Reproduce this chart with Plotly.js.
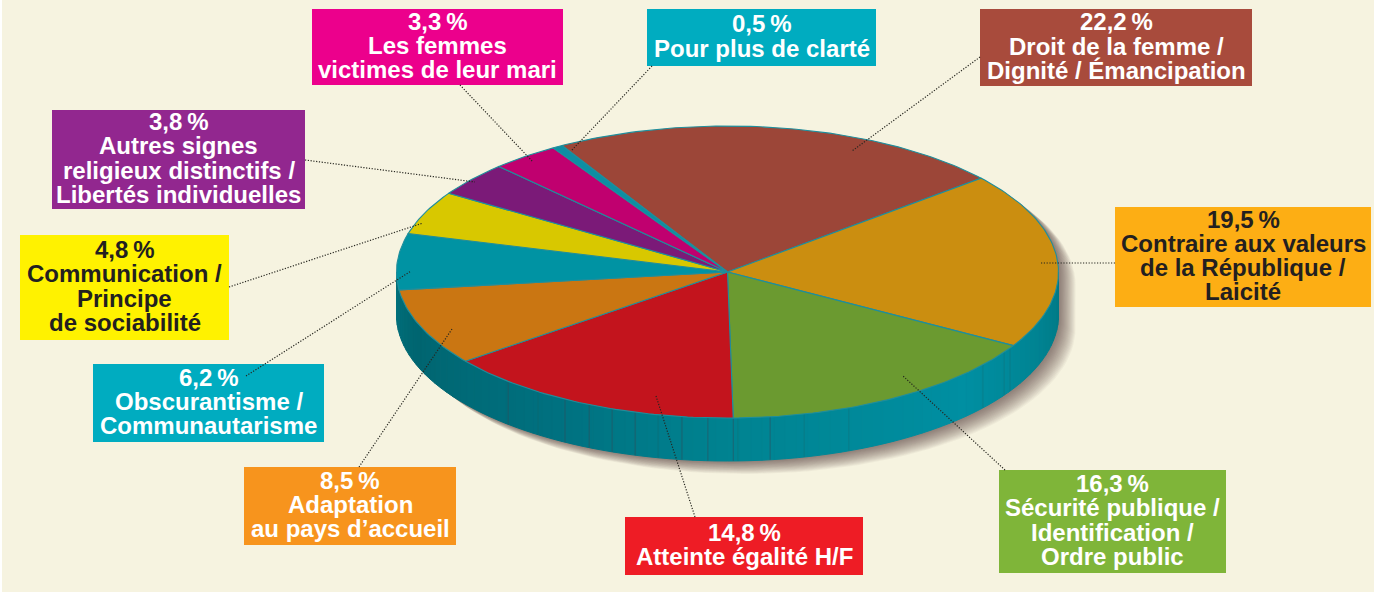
<!DOCTYPE html>
<html>
<head>
<meta charset="utf-8">
<script src="https://cdn.plot.ly/plotly-3.0.1.min.js"></script>
<style>html,body{margin:0;padding:0;background:#fff}#chart{width:1374px;height:592px}</style>
</head>
<body>
<div id="chart"></div>
<script>
// ---- data ----
const categories = [
  "Droit de la femme / Dignité / Émancipation",
  "Contraire aux valeurs de la République / Laicité",
  "Sécurité publique / Identification / Ordre public",
  "Atteinte égalité H/F",
  "Adaptation au pays d’accueil",
  "Obscurantisme / Communautarisme",
  "Communication / Principe de sociabilité",
  "Autres signes religieux distinctifs / Libertés individuelles",
  "Les femmes victimes de leur mari",
  "Pour plus de clarté"
];
const values = [22.2, 19.5, 16.3, 14.8, 8.5, 6.2, 4.8, 3.8, 3.3, 0.5];
const sliceColors = ["#9c4638", "#cb8e10", "#6b9a30", "#c3141d", "#ca7612", "#0093a3", "#d8c800", "#7b1a78", "#c0006f", "#0d8ea3"];
const labelLines = [
  ["22,2\u2009%", "Droit de la femme /", "Dignité / Émancipation"],
  ["19,5\u2009%", "Contraire aux valeurs", "de la République /", "Laicité"],
  ["16,3\u2009%", "Sécurité publique /", "Identification /", "Ordre public"],
  ["14,8\u2009%", "Atteinte égalité H/F"],
  ["8,5\u2009%", "Adaptation", "au pays d’accueil"],
  ["6,2\u2009%", "Obscurantisme /", "Communautarisme"],
  ["4,8\u2009%", "Communication /", "Principe", "de sociabilité"],
  ["3,8\u2009%", "Autres signes", "religieux distinctifs /", "Libertés individuelles"],
  ["3,3\u2009%", "Les femmes", "victimes de leur mari"],
  ["0,5\u2009%", "Pour plus de clarté"]
];
const boxColors = ["#a84b3c", "#fdae14", "#7fb539", "#ee1c25", "#f7941d", "#00acc0", "#fff200", "#92278f", "#ec008c", "#00acc0"];
const textColors = ["#fff", "#231f20", "#fff", "#fff", "#fff", "#fff", "#231f20", "#fff", "#fff", "#fff"];

// ---- layout of the drawing (pixels of the page) ----
const boxes = [
  [980, 1252, 9, 86], [1115, 1371, 207, 307], [999, 1226, 470, 573], [625, 863, 517, 575],
  [244, 456, 467, 545], [93, 324, 364, 442], [20, 229, 235, 340], [52, 305, 110, 209],
  [312, 563, 9, 85], [647, 876, 9, 66]
];
const leaders = [
  [[980, 57], [852, 151]], [[1115, 263], [1040, 263]], [[1005, 470], [903, 376]], [[695, 517], [656, 396]],
  [[359, 467], [452, 329]], [[246, 376], [411, 271]], [[229, 287], [423, 223]], [[305, 160], [475, 182]],
  [[460, 85], [533, 162]], [[652, 66], [571, 151]]
];
const lineStep = 24.2;
const cx = 727.5, cy = 272, rx = 331, ry = 146, depth = 43, startAngle = -30;
const wallStops = [[90, [0,120,132]], [135, [0,143,162]], [180, [0,131,145]], [212, [0,112,127]], [250, [0,101,112]], [270, [0,112,124]]];
const seamAngles = [221.5, 209.4, 204.7, 200.4, 196.2, 187.9, 183.4, 179, 172.6];
const faintSeams = [214.9, 192.1, 178.2, 166.6, 158.5, 129.5, 123.3, 121.4];

const rad = d => d * Math.PI / 180;
const px = d => cx + rx * Math.sin(rad(d));
const py = d => cy - ry * Math.cos(rad(d));
const arc = (a, b, n) => { const o = []; for (let i = 0; i <= n; i++) o.push(a + (b - a) * i / n); return o; };
const poly = (xs, ys, fill, line, w) => ({
  type: "scatter", mode: "lines", x: xs, y: ys, fill: "toself", fillcolor: fill,
  line: {color: line || fill, width: w === undefined ? 1 : w}, hoverinfo: "skip", showlegend: false
});
const wallColor = d => {
  for (let i = 1; i < wallStops.length; i++) {
    if (d <= wallStops[i][0]) {
      const [a, ca] = wallStops[i - 1], [b, cb] = wallStops[i];
      const t = (d - a) / (b - a);
      return "rgb(" + ca.map((v, k) => Math.round(v + (cb[k] - v) * t)).join(",") + ")";
    }
  }
  return "rgb(0,112,124)";
};

const traces = [];
// soft shadow under the disc
const hull = arc(-90, 270, 160);
for (let k = 18; k >= 1; k--) {
  const xs = [], ys = [];
  hull.forEach(d => {
    const low = Math.cos(rad(d)) < 0 ? depth : 0;
    xs.push(px(d) + k * 0.95);
    ys.push(py(d) + low + k * 0.72);
  });
  traces.push(poly(xs, ys, "rgba(60,52,36,0.042)", "rgba(0,0,0,0)", 0));
}
// side wall
const wallAngles = arc(90, 270, 90);
for (let i = 0; i < wallAngles.length - 1; i++) {
  const a = wallAngles[i], b = wallAngles[i + 1];
  const c = wallColor((a + b) / 2);
  traces.push(poly([px(a), px(b), px(b), px(a), px(a)],
                   [py(a), py(b), py(b) + depth, py(a) + depth, py(a)], c, c, 1));
}
const seam = (list, color) => {
  const xs = [], ys = [];
  list.forEach(d => { xs.push(px(d), px(d), null); ys.push(py(d), py(d) + depth, null); });
  traces.push({type: "scatter", mode: "lines", x: xs, y: ys, line: {color: color, width: 1}, hoverinfo: "skip", showlegend: false});
};
seam(faintSeams, "rgba(30,90,90,0.25)");
seam(seamAngles, "rgba(50,75,90,0.55)");
// top of the disc: one wedge per value
const total = values.reduce((s, v) => s + v, 0);
let angle = startAngle;
values.forEach((v, i) => {
  const sweep = v / total * 360;
  const a = arc(angle, angle + sweep, Math.max(4, Math.ceil(sweep)));
  traces.push(Object.assign(poly([cx].concat(a.map(px), [cx]), [cy].concat(a.map(py), [cy]), sliceColors[i], "#1f8e9c", 1.1),
    {name: categories[i]}));
  angle += sweep;
});
// dotted leader lines
leaders.forEach(l => {
  traces.push({type: "scatter", mode: "lines", x: [l[0][0], l[1][0]], y: [l[0][1], l[1][1]],
    line: {color: "#26261f", width: 1.2, dash: "1.2px,1.6px"}, hoverinfo: "skip", showlegend: false});
});

const shapes = [{type: "rect", layer: "below", xref: "paper", yref: "paper", x0: 0, x1: 2 / 1374, y0: 0, y1: 1,
  fillcolor: "#ffffff", line: {width: 0}}].concat(boxes.map((b, i) => ({type: "rect", layer: "below", xref: "x", yref: "y",
  x0: b[0], x1: b[1], y0: b[2], y1: b[3], fillcolor: boxColors[i], line: {width: 0}})));

const annotations = [];
labelLines.forEach((lines, i) => {
  const b = boxes[i];
  const mid = (b[2] + b[3]) / 2;
  lines.forEach((t, j) => {
    annotations.push({xref: "x", yref: "y", x: (b[0] + b[1]) / 2, y: mid - 1.5 + (j - (lines.length - 1) / 2) * lineStep,
      text: "<b>" + t + "</b>", showarrow: false, xanchor: "center", yanchor: "middle",
      font: {family: "Liberation Sans, Arial, sans-serif", size: 24, color: textColors[i]}});
  });
});

Plotly.newPlot("chart", traces, {
  width: 1374, height: 592,
  margin: {l: 0, r: 0, t: 0, b: 0},
  paper_bgcolor: "#f6f3e0", plot_bgcolor: "#f6f3e0",
  showlegend: false,
  xaxis: {range: [0, 1374], visible: false, fixedrange: true},
  yaxis: {range: [592, 0], visible: false, fixedrange: true},
  shapes: shapes, annotations: annotations
}, {displayModeBar: false, staticPlot: true});
</script>
</body>
</html>
